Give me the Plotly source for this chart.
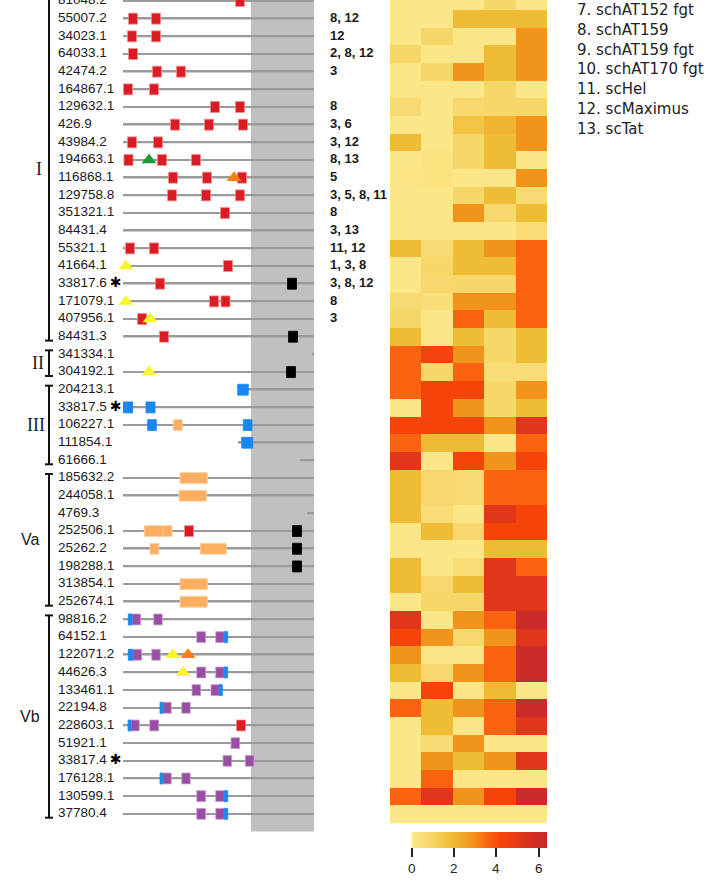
import plotly.graph_objects as go

# ---------------------------------------------------------------- data
gene_ids = [
    "81048.2", "55007.2", "34023.1", "64033.1", "42474.2", "164867.1",
    "129632.1", "426.9", "43984.2", "194663.1", "116868.1", "129758.8",
    "351321.1", "84431.4", "55321.1", "41664.1", "33817.6", "171079.1",
    "407956.1", "84431.3",
    "341334.1", "304192.1",
    "204213.1", "33817.5", "106227.1", "111854.1", "61666.1",
    "185632.2", "244058.1", "4769.3", "252506.1", "25262.2", "198288.1",
    "313854.1", "252674.1",
    "98816.2", "64152.1", "122071.2", "44626.3", "133461.1", "22194.8",
    "228603.1", "51921.1", "33817.4", "176128.1", "130599.1", "37780.4",
]

group_names = ["I", "II", "III", "Va", "Vb"]
group_sizes = [20, 2, 5, 8, 12]

starred = ["33817.6", "33817.5", "33817.4"]

# cultivars carrying each gene (numbers refer to the cultivar list)
cultivar_notes = {
    "55007.2": "8, 12", "34023.1": "12", "64033.1": "2, 8, 12",
    "42474.2": "3", "129632.1": "8", "426.9": "3, 6", "43984.2": "3, 12",
    "194663.1": "8, 13", "116868.1": "5", "129758.8": "3, 5, 8, 11",
    "351321.1": "8", "84431.4": "3, 13", "55321.1": "11, 12",
    "41664.1": "1, 3, 8", "33817.6": "3, 8, 12", "171079.1": "8",
    "407956.1": "3",
}

cultivar_labels = ["7. schAT152 fgt", "8. schAT159", "9. schAT159 fgt",
                   "10. schAT170 fgt", "11. scHel", "12. scMaximus",
                   "13. scTat"]

# alignment coordinates
alignment_end = 191
tail_region = (128, 191)
line_start = {"204213.1": 120, "111854.1": 115, "61666.1": 177,
              "341334.1": 189, "4769.3": 184}

# domains as (gene, start, end)
red_boxes = [
    ("81048.2", 112.5, 121.5),
    ("55007.2", 5.5, 14.5), ("55007.2", 28.5, 37.5),
    ("34023.1", 4.5, 13.5), ("34023.1", 28.5, 37.5),
    ("64033.1", 5.5, 14.5),
    ("42474.2", 29.5, 38.5), ("42474.2", 53.5, 62.5),
    ("164867.1", 0.5, 9.5), ("164867.1", 26.5, 35.5),
    ("129632.1", 87.5, 96.5), ("129632.1", 112.5, 121.5),
    ("426.9", 47.5, 56.5), ("426.9", 81.5, 90.5), ("426.9", 115.5, 124.5),
    ("43984.2", 4.5, 13.5), ("43984.2", 30.5, 39.5),
    ("194663.1", 1, 10), ("194663.1", 34.5, 43.5), ("194663.1", 68.5, 77.5),
    ("116868.1", 45.5, 54.5), ("116868.1", 79.5, 88.5), ("116868.1", 114.5, 123.5),
    ("129758.8", 44.5, 53.5), ("129758.8", 78.5, 87.5), ("129758.8", 112.5, 121.5),
    ("351321.1", 97.5, 106.5),
    ("55321.1", 2.5, 11.5), ("55321.1", 26.5, 35.5),
    ("41664.1", 100.5, 109.5),
    ("33817.6", 32.5, 41.5),
    ("171079.1", 86.5, 95.5), ("171079.1", 98, 107),
    ("407956.1", 14.5, 23.5),
    ("84431.3", 36.5, 45.5),
    ("252506.1", 61.5, 70.5),
    ("228603.1", 113.5, 122.5),
]
black_boxes = [
    ("33817.6", 164.5, 173.5), ("84431.3", 165.5, 174.5),
    ("304192.1", 163.5, 172.5), ("252506.1", 169.5, 178.5),
    ("25262.2", 169.5, 178.5), ("198288.1", 169.5, 178.5),
]
blue_boxes = [
    ("204213.1", 114.7, 125.3),
    ("33817.5", -1, 9.7), ("33817.5", 23, 32),
    ("106227.1", 24.7, 33.3), ("106227.1", 120.3, 129),
    ("111854.1", 118.7, 129.7),
    ("98816.2", 5.3, 9), ("64152.1", 101.3, 104.7),
    ("122071.2", 5.3, 9.7), ("44626.3", 101.3, 104.5),
    ("133461.1", 96.3, 99.3), ("22194.8", 37, 39.7),
    ("228603.1", 5, 8), ("176128.1", 37, 39.7),
    ("130599.1", 101.3, 104.7), ("37780.4", 101.3, 104.7),
]
peach_boxes = [
    ("106227.1", 50.3, 59.3),
    ("185632.2", 57, 84.3), ("244058.1", 56, 83.3),
    ("252506.1", 21.3, 40.3), ("252506.1", 40.3, 49),
    ("25262.2", 27, 35.7), ("25262.2", 77.3, 103.3),
    ("313854.1", 57, 84.3), ("252674.1", 57, 84.3),
]
purple_boxes = [
    ("98816.2", 9, 17.7), ("98816.2", 30.7, 39.3),
    ("64152.1", 73.7, 82.7), ("64152.1", 92.7, 101.3),
    ("122071.2", 9.7, 18.7), ("122071.2", 28.7, 37.3),
    ("44626.3", 73.7, 82.7), ("44626.3", 92.7, 101.3),
    ("133461.1", 69, 77.7), ("133461.1", 88, 96.3),
    ("22194.8", 39.7, 48.3), ("22194.8", 58.7, 67.3),
    ("228603.1", 8, 16.3), ("228603.1", 26.7, 35.7),
    ("51921.1", 108, 116.7),
    ("33817.4", 100, 108.7), ("33817.4", 122.3, 131),
    ("176128.1", 39.7, 48.3), ("176128.1", 58.7, 67.3),
    ("130599.1", 73.7, 82.7), ("130599.1", 92.7, 101.3),
    ("37780.4", 73.7, 82.7), ("37780.4", 92.7, 101.3),
]
yellow_sites = [("41664.1", 3), ("171079.1", 3), ("407956.1", 27),
                ("304192.1", 26), ("122071.2", 50), ("44626.3", 60)]
green_sites = [("194663.1", 26)]
orange_sites = [("116868.1", 111), ("122071.2", 65)]

# log2 expression, five conditions per gene
expression = [
    [0.1, 0.1, 0.1, 0.9, 0.1],
    [0.1, 0.1, 1.9, 1.9, 1.9],
    [0.1, 0.9, 0.1, 0.1, 2.9],
    [0.9, 0.1, 0.1, 1.9, 2.9],
    [0.1, 0.9, 2.9, 1.9, 2.9],
    [0.1, 0.1, 0.1, 0.9, 0.1],
    [0.7, 0.1, 0.8, 0.9, 0.9],
    [0.1, 0.1, 1.6, 2.1, 2.9],
    [1.9, 0.1, 0.9, 1.9, 2.9],
    [0.1, 0.3, 0.9, 1.9, 0.1],
    [0.2, 0.3, 0.1, 0.1, 2.9],
    [0.1, 0.1, 0.9, 1.9, 0.7],
    [0.1, 0.1, 2.9, 0.8, 1.9],
    [0.1, 0.1, 0.1, 0.1, 0.6],
    [1.9, 0.7, 1.9, 2.9, 3.6],
    [0.1, 0.9, 1.9, 1.9, 3.6],
    [0.1, 0.8, 0.9, 0.9, 3.6],
    [0.7, 0.5, 2.9, 2.9, 3.6],
    [0.9, 0.1, 3.6, 1.9, 3.6],
    [1.9, 0.1, 1.9, 0.9, 1.9],
    [3.6, 4.3, 2.9, 0.9, 1.9],
    [3.6, 0.9, 3.6, 0.6, 0.6],
    [3.6, 4.2, 4.2, 0.9, 2.9],
    [0.1, 4.2, 2.9, 0.9, 1.9],
    [4.2, 4.2, 4.2, 2.9, 5.2],
    [3.6, 1.9, 1.9, 0.1, 3.6],
    [5.2, 0.1, 4.2, 2.9, 4.2],
    [1.9, 0.8, 0.7, 3.6, 3.6],
    [1.9, 0.8, 0.7, 3.6, 3.6],
    [1.9, 0.6, 0.1, 5.2, 4.2],
    [0.1, 1.9, 0.8, 4.2, 4.2],
    [0.1, 0.1, 0.1, 1.9, 1.9],
    [1.9, 0.1, 0.6, 5.2, 3.6],
    [1.9, 0.8, 1.9, 5.2, 5.2],
    [0.1, 0.9, 0.9, 5.2, 5.2],
    [5.2, 0.1, 2.9, 3.6, 6.2],
    [4.2, 2.9, 0.8, 2.9, 5.2],
    [2.9, 0.1, 0.1, 3.6, 6.2],
    [1.9, 0.8, 2.9, 3.6, 6.2],
    [0.1, 4.2, 0.1, 1.9, 0.1],
    [3.6, 1.9, 2.9, 3.6, 6.2],
    [0.1, 1.9, 0.1, 3.6, 5.2],
    [0.1, 0.7, 2.9, 0.1, 0.1],
    [0.1, 2.9, 1.9, 2.9, 5.2],
    [0.1, 3.6, 0.1, 0.1, 0.1],
    [3.6, 5.2, 2.9, 4.2, 6.2],
    [0.1, 0.1, 0.1, 0.1, 0.1],
]
conditions = [0, 1, 2, 3, 4]
color_ticks = [0, 2, 4, 6]

# ---------------------------------------------------------------- layout constants
W, H = 715, 880
ROW_PX = 17.67
FIRST_ROW_PX = 1.0
row_of = {g: i for i, g in enumerate(gene_ids)}
n_rows = len(gene_ids)
y_top = -FIRST_ROW_PX / ROW_PX
y_bottom = y_top + H / ROW_PX

TEXT = "#1a1a1a"
SANS = "Liberation Sans, Arial, sans-serif"
SERIF = "Liberation Serif, Times New Roman, serif"

fig = go.Figure()

# backbone lines of each gene (thin bars so they sit under the domains)
fig.add_trace(go.Bar(
    orientation="h", xaxis="x3", yaxis="y",
    y=list(range(n_rows)),
    base=[line_start.get(g, 0) for g in gene_ids],
    x=[alignment_end - line_start.get(g, 0) for g in gene_ids],
    width=0.09, marker=dict(color="#9a9a9a", line=dict(width=0)),
    hoverinfo="skip"))


def boxes(items, color, edge):
    return go.Bar(
        orientation="h", xaxis="x3", yaxis="y",
        y=[row_of[g] for g, s, e in items],
        base=[s for g, s, e in items],
        x=[e - s for g, s, e in items],
        width=0.62,
        marker=dict(color=color, line=dict(color=edge, width=0.8)),
        hoverinfo="skip",
    )


fig.add_trace(boxes(peach_boxes, "#FDAE61", "#FFD2A6"))
fig.add_trace(boxes(red_boxes, "#DC1C24", "#F08A8E"))
fig.add_trace(boxes(black_boxes, "#000000", "#000000"))
fig.add_trace(boxes(purple_boxes, "#984EA3", "#C9A3CF"))
fig.add_trace(boxes(blue_boxes, "#1787F2", "#1787F2"))


def sites(items, color):
    return go.Scatter(
        x=[p for g, p in items], y=[row_of[g] for g, p in items],
        mode="markers", xaxis="x3", yaxis="y",
        marker=dict(symbol="triangle-up", size=13, color=color,
                    line=dict(width=0)),
        hoverinfo="skip", cliponaxis=False,
    )


fig.add_trace(sites(yellow_sites, "#F6F62A"))
fig.add_trace(sites(green_sites, "#1E9A3C"))
fig.add_trace(sites(orange_sites, "#FF7F0E"))

# gene labels
fig.add_trace(go.Scatter(
    x=[58] * n_rows, y=list(range(n_rows)), text=gene_ids,
    mode="text", textposition="middle right", xaxis="x", yaxis="y",
    textfont=dict(family=SANS, size=13.5, color=TEXT),
    hoverinfo="skip", cliponaxis=False))

# cultivar numbers
note_genes = [g for g in gene_ids if g in cultivar_notes]
fig.add_trace(go.Scatter(
    x=[330] * len(note_genes), y=[row_of[g] for g in note_genes],
    text=[cultivar_notes[g] for g in note_genes],
    mode="text", textposition="middle right", xaxis="x", yaxis="y",
    textfont=dict(family=SANS, size=13, color=TEXT, weight="bold"),
    hoverinfo="skip", cliponaxis=False))

# clade brackets
bx, by = [], []
first = 0
annotations = []
label_x = {"I": 39, "II": 38, "III": 36, "Va": 30, "Vb": 30}
for name, size in zip(group_names, group_sizes):
    last = first + size - 1
    top, bot = first - 0.23, last + 0.22
    bx += [45, 53, None, 49, 49, None, 45, 53, None]
    by += [top, top, None, top, bot, None, bot, bot, None]
    serif = name in ("I", "II", "III")
    annotations.append(dict(
        x=label_x[name], y=(first + last) / 2, xref="x", yref="y",
        text=name, showarrow=False, xanchor="center", yanchor="middle",
        font=dict(family=SERIF if serif else SANS, size=18 if serif else 16,
                  color=TEXT)))
    first = last + 1
fig.add_trace(go.Scatter(x=bx, y=by, mode="lines", xaxis="x", yaxis="y",
                         line=dict(color="#111111", width=2),
                         hoverinfo="skip", cliponaxis=False))

# asterisk beside duplicated loci
fig.add_trace(go.Scatter(
    x=[115.5] * len(starred), y=[row_of[g] for g in starred],
    text=["\u2731"] * len(starred), mode="text", textposition="middle center",
    xaxis="x", yaxis="y",
    textfont=dict(family="DejaVu Sans, sans-serif", size=14, color="#000000"),
    hoverinfo="skip", cliponaxis=False))

# cultivar list
for i, lab in enumerate(cultivar_labels):
    annotations.append(dict(
        x=575 / W, y=1 - (10 + 19.8 * i) / H, xref="paper", yref="paper",
        text=lab, showarrow=False, xanchor="left", yanchor="middle",
        font=dict(family="DejaVu Sans, Verdana, sans-serif", size=15,
                  color="#222222")))

# expression heatmap
zmax = 6.4
stops = [(0.0, "#FDE98C"), (0.9, "#F7D66A"), (1.9, "#EFBC35"),
         (2.9, "#F2941C"), (3.6, "#FA6410"), (4.2, "#F5440A"),
         (5.2, "#E0361A"), (6.2, "#CB2A2A"), (6.4, "#C82828")]
colorscale = [[v / zmax, c] for v, c in stops]
CB_LEFT, CB_LEN = 412, 135
fig.add_trace(go.Heatmap(
    z=expression, x=conditions, y=list(range(n_rows)),
    xaxis="x2", yaxis="y", zmin=0, zmax=zmax, colorscale=colorscale,
    hoverinfo="skip",
    colorbar=dict(
        orientation="h", x=(CB_LEFT + CB_LEN / 2) / W, xanchor="center",
        y=1 - 832 / H, yanchor="top", len=CB_LEN, lenmode="pixels",
        thickness=16, thicknessmode="pixels", outlinewidth=0,
        xpad=0, ypad=0, ticks="outside", ticklen=9, tickwidth=1.5,
        tickcolor="#222222", tickvals=color_ticks, showticklabels=False),
))
for v in color_ticks:
    annotations.append(dict(
        x=(CB_LEFT + v / zmax * CB_LEN) / W, y=1 - 878 / H,
        xref="paper", yref="paper", text=str(v), showarrow=False,
        xanchor="center", yanchor="bottom",
        font=dict(family=SANS, size=13.5, color="#222222")))

# shaded C-terminal region
fig.add_shape(type="rect", xref="x3", yref="y",
              x0=tail_region[0], x1=tail_region[1], y0=y_top - 1, y1=n_rows,
              fillcolor="#C0C0C0", line=dict(width=0), layer="below")

hidden = dict(visible=False, showgrid=False, zeroline=False)
fig.update_layout(
    width=W, height=H, margin=dict(l=0, r=0, t=0, b=0),
    paper_bgcolor="white", plot_bgcolor="rgba(0,0,0,0)",
    showlegend=False, barmode="overlay",
    xaxis=dict(domain=[0, 1], range=[0, W], anchor="y", **hidden),
    xaxis2=dict(domain=[390 / W, 547 / W], range=[-0.5, 4.5], anchor="y",
                **hidden),
    xaxis3=dict(domain=[123 / W, 314 / W], range=[0, alignment_end],
                anchor="y", **hidden),
    yaxis=dict(domain=[0, 1], range=[y_bottom, y_top], **hidden),
    annotations=annotations,
)

fig.write_html("out.html")
